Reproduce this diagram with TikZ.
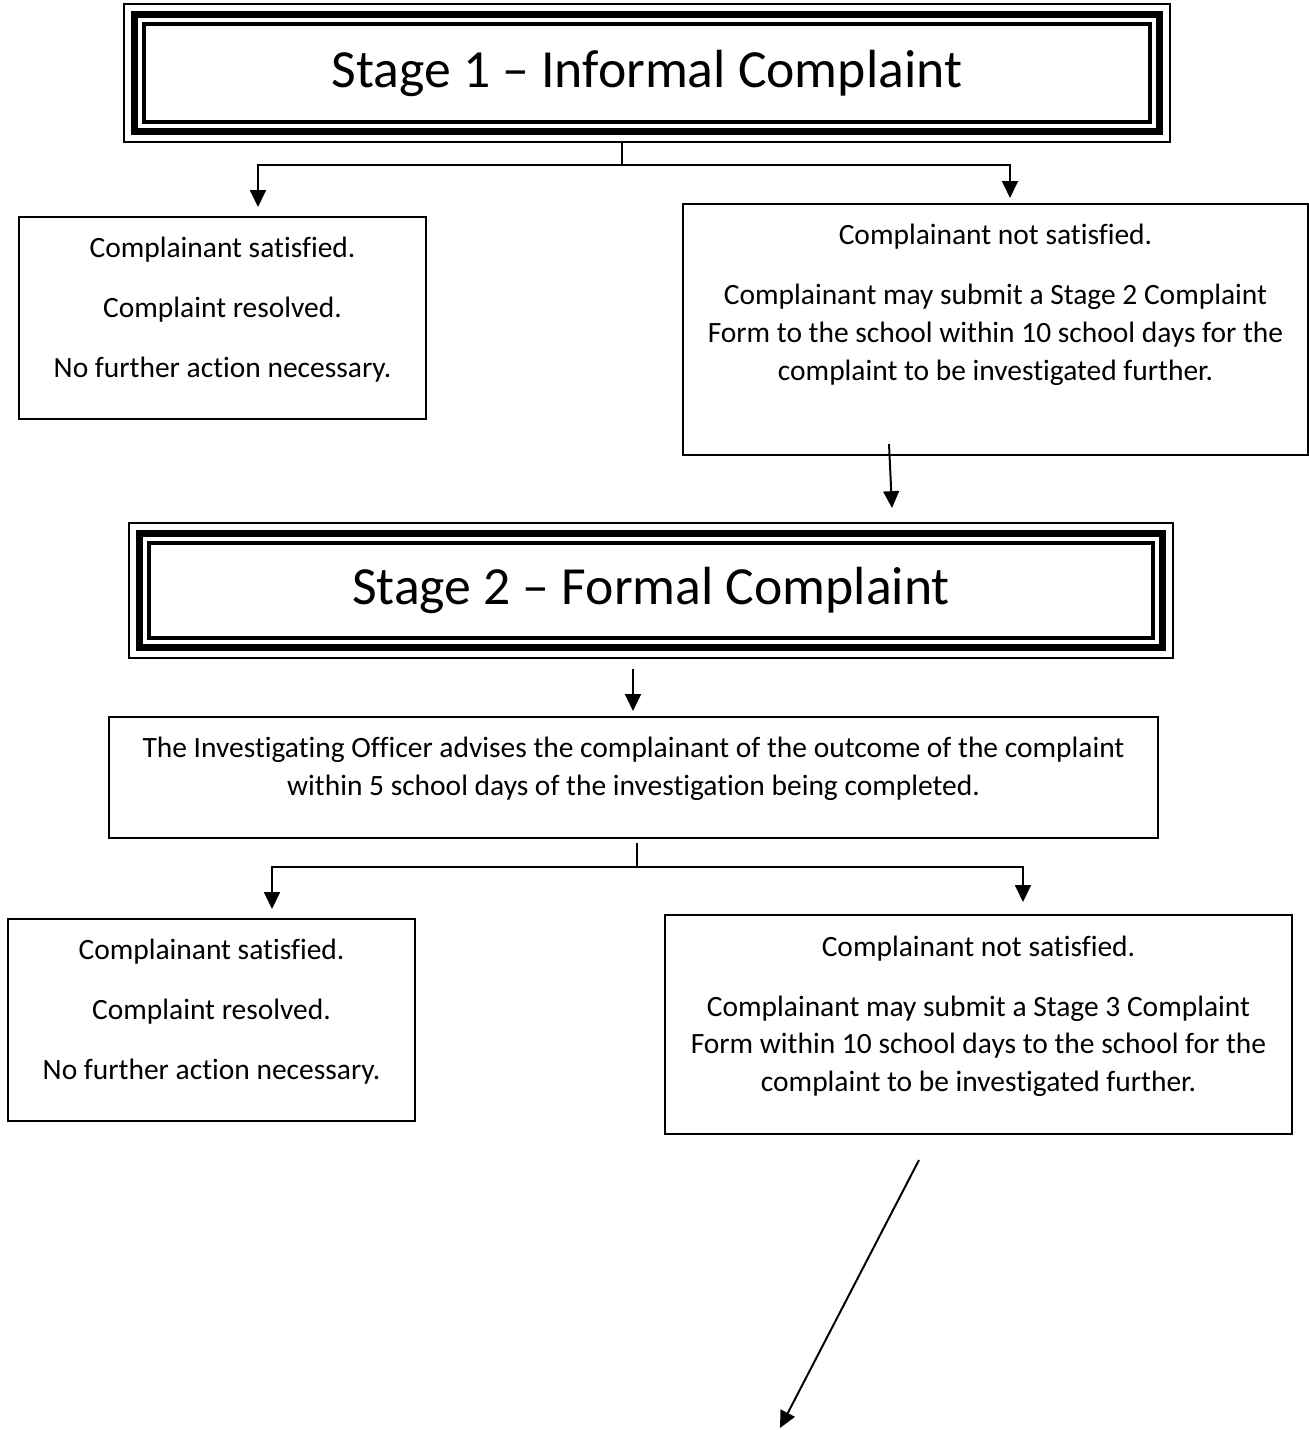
\documentclass[tikz,border=0pt]{standalone}
\usepackage{fontspec}
\setmainfont{Carlito}[Ligatures={TeX,NoCommon}]
\usetikzlibrary{arrows.meta}
\tikzset{
	stagebox/.style={draw, line width=0.6pt, inner sep=0pt, outer sep=0pt, font=\fontsize{20.4}{24}\selectfont},
	box/.style={draw, line width=0.75pt, inner sep=0pt, outer sep=0pt},
	txt/.style={anchor=north, align=center, inner sep=0pt, font=\fontsize{11.2}{14.4}\selectfont},
	link/.style={line width=0.75pt, -{Triangle[width=6pt,length=6.4pt]}},
	wire/.style={line width=0.75pt},
}
\begin{document}
\begin{tikzpicture}[x=0.38pt, y=-0.38pt]
	\useasboundingbox (0,0) rectangle (1309,1430);
	
	% stage headings
	\node (stage1) [stagebox, minimum width=397.5pt, minimum height=52.4pt] at (647,73) {Stage 1 -- Informal Complaint};
	\node (stage2) [stagebox, minimum width=396.7pt, minimum height=51.3pt] at (651,590.5) {Stage 2 -- Formal Complaint};
	\foreach \s in {stage1, stage2} {
		\draw[line width=2.66pt] ([shift={(4pt,-4pt)}]\s.north west) rectangle ([shift={(-4pt,4pt)}]\s.south east);
		\draw[line width=1.5pt] ([shift={(7.6pt,-7.6pt)}]\s.north west) rectangle ([shift={(-7.6pt,7.6pt)}]\s.south east);
	}
	
	% outcome boxes
	\node (sat1) [box, minimum width=154.7pt, minimum height=76.8pt] at (222.5,318) {};
	\node (notsat1) [box, minimum width=237.5pt, minimum height=95.4pt] at (995.5,329.5) {};
	\node (officer) [box, minimum width=398.6pt, minimum height=46pt] at (633.5,777.5) {};
	\node (sat2) [box, minimum width=154.7pt, minimum height=76.8pt] at (211.5,1020) {};
	\node (notsat2) [box, minimum width=238.3pt, minimum height=83.2pt] at (978.5,1024.5) {};
	
	\node (sat1txt) [txt] at ([yshift=-7.6pt]sat1.north) {Complainant satisfied.\\[8.4pt] Complaint resolved.\\[8.4pt] No further action necessary.};
	\node (notsat1txt) [txt] at ([yshift=-7.6pt]notsat1.north) {Complainant not satisfied.\\[8.4pt]
		Complainant may submit a Stage 2 Complaint\\ Form to the school within 10 school days for the\\ complaint to be investigated further.};
	\node (officertxt) [txt] at ([yshift=-7.6pt]officer.north) {The Investigating Officer advises the complainant of the outcome of the complaint\\
		within 5 school days of the investigation being completed.};
	\node (sat2txt) [txt] at ([yshift=-7.6pt]sat2.north) {Complainant satisfied.\\[8.4pt] Complaint resolved.\\[8.4pt] No further action necessary.};
	\node (notsat2txt) [txt] at ([yshift=-7.6pt]notsat2.north) {Complainant not satisfied.\\[8.4pt]
		Complainant may submit a Stage 3 Complaint\\ Form within 10 school days to the school for the\\ complaint to be investigated further.};
	
	% connector points
	\coordinate (split1) at (622,165);
	\coordinate (tip1a) at (258,207);
	\coordinate (tip1b) at (1010,198);
	\coordinate (up2) at (889,444);
	\coordinate (tip2) at (892,508);
	\coordinate (down2) at (633,669);
	\coordinate (tip3) at (633,711);
	\coordinate (up3) at (637,843);
	\coordinate (split3) at (637,867);
	\coordinate (tip3a) at (272,909);
	\coordinate (tip3b) at (1023,902);
	\coordinate (up4) at (919,1160);
	\coordinate (tip4) at (780,1428);
	
	\draw[wire] (split1 |- stage1.south) -- (split1);
	\draw[link] (split1) -| (tip1a);
	\draw[link] (split1) -| (tip1b);
	\draw[link] (up2) -- (tip2);
	\draw[link] (down2) -- (tip3);
	\draw[wire] (up3) -- (split3);
	\draw[link] (split3) -| (tip3a);
	\draw[link] (split3) -| (tip3b);
	\draw[link] (up4) -- (tip4);
\end{tikzpicture}
\end{document}
